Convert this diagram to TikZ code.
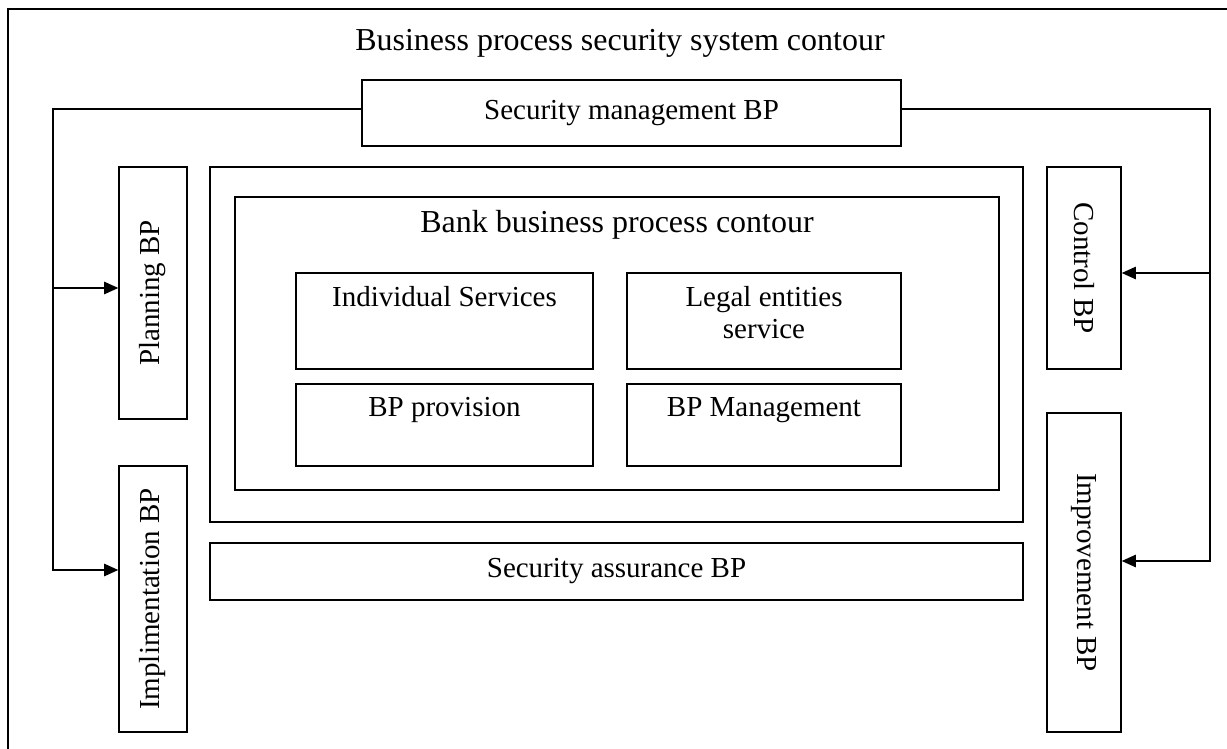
\documentclass[tikz,border=0pt]{standalone}
\usepackage{fontspec}
\setmainfont{Liberation Serif}
\usetikzlibrary{arrows.meta,positioning,calc}

\begin{document}
\begin{tikzpicture}[x=0.02cm, y=-0.02cm, line width=0.8pt,
    font=\fontsize{16.5}{18.2}\selectfont,
    box/.style={draw, rectangle, inner sep=0pt, align=center},
    toplbl/.style={anchor=north, yshift=-4.5pt, align=center},
    bigfont/.style={font=\fontsize{18.2}{21}\selectfont},
    arr/.style={-{Triangle[length=8pt,width=7pt]}}]
    \useasboundingbox (0,0) rectangle (1227,749);
    \clip (0,0) rectangle (1227,749);

    % Outer contour
    \draw (8,9) rectangle (1260,780);
    \node[anchor=base, bigfont] (title) at (620,51) {Business process security system contour};
    \node[box, minimum width=10.78cm, minimum height=1.32cm] (secmgmt) at (631.5,113) {Security management BP};

    % Side processes
    \node[box, minimum width=1.36cm, minimum height=5.04cm] (plan) at (153,293) {\rotatebox{90}{Planning BP}};
    \node[box, minimum width=1.36cm, minimum height=5.32cm] (impl) at (153,599) {\rotatebox{90}{Implimentation BP}};
    \node[box, minimum width=1.48cm, minimum height=4.04cm] (control) at (1084,268) {\rotatebox{-90}{Control BP}};
    \node[box, minimum width=1.48cm, minimum height=6.38cm] (improve) at (1084,572.5) {\rotatebox{-90}{Improvement BP}};

    % Bank contour
    \node[box, minimum width=16.26cm, minimum height=7.10cm] (procbox) at (616.5,344.5) {};
    \node[box, minimum width=15.28cm, minimum height=5.86cm,
        label={[toplbl, bigfont]north:Bank business process contour}] (bank) at (617,343.5) {};
    \node[box, minimum width=5.94cm, minimum height=1.92cm,
        label={[toplbl]north:Individual Services}] (indiv) at (444.5,321) {};
    \node[box, minimum width=5.48cm, minimum height=1.92cm,
        label={[toplbl]north:{Legal entities\\service}}] (legal) at (764,321) {};
    \node[box, minimum width=5.94cm, minimum height=1.64cm,
        label={[toplbl]north:BP provision}] (prov) at (444.5,425) {};
    \node[box, minimum width=5.48cm, minimum height=1.64cm,
        label={[toplbl]north:BP Management}] (bpmgmt) at (764,425) {};
    \node[box, minimum width=16.26cm, minimum height=1.14cm] (assur) at (616.5,571.5) {Security assurance BP};

    % Connectors
    \coordinate (lt) at (53,109);
    \coordinate (lp) at (53,288);
    \coordinate (lb) at (53,570);
    \coordinate (rt) at (1210,109);
    \coordinate (rc) at (1210,273);
    \coordinate (rb) at (1210,561);
    \draw[arr] (secmgmt.west |- lt) -- (lt) -- (lb) -- (impl.west |- lb);
    \draw[arr] (lp) -- (plan.west |- lp);
    \draw[arr] (secmgmt.east |- rt) -- (rt) -- (rb) -- (improve.east |- rb);
    \draw[arr] (rc) -- (control.east |- rc);
\end{tikzpicture}
\end{document}
